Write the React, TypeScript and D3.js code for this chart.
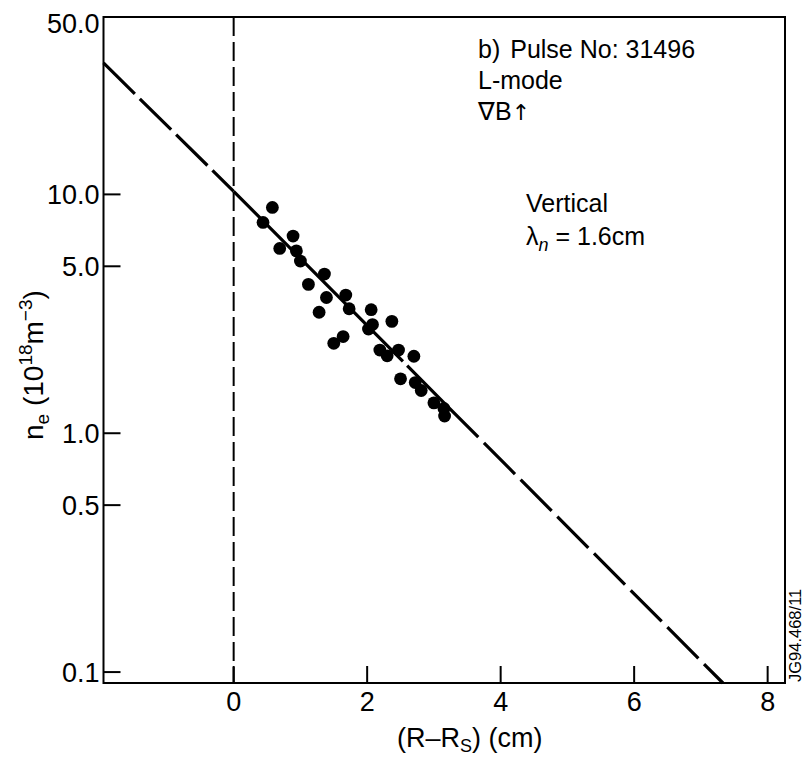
import React from "react";
import * as d3 from "d3";

// ---- data ----
const pointX = [0.58, 0.44, 0.89, 0.69, 0.94, 1.0, 1.36, 1.12, 1.39, 1.68, 1.28, 1.73, 2.06, 2.08, 2.37, 2.02, 1.64, 1.5, 2.19, 2.3, 2.47, 2.7, 2.5, 2.72, 2.81, 3.0, 3.15, 3.16];
const pointY = [8.82, 7.63, 6.69, 5.94, 5.8, 5.26, 4.64, 4.2, 3.7, 3.79, 3.21, 3.32, 3.29, 2.85, 2.94, 2.73, 2.54, 2.38, 2.23, 2.11, 2.23, 2.1, 1.69, 1.63, 1.51, 1.34, 1.27, 1.18];

// fitted line (lambda_n ~ 1.6 cm), read at its ends and break points
const fitDashedLeft = [[-1.95, 35.5], [0, 10.3]];
const fitSolid = [[0, 10.3], [3.2, 1.3]];
const fitDashedRight = [[3.2, 1.3], [7.33, 0.09]];

const xTicks = [0, 2, 4, 6, 8];
const xTickLabels = ["0", "2", "4", "6", "8"];
const yTicks = [0.1, 0.5, 1, 5, 10, 50];
const yTickLabels = ["0.1", "0.5", "1.0", "5.0", "10.0", "50.0"];
const yTickMarks = [0.1, 0.5, 1, 5, 10];

const xDomain = [-1.95, 8.26];
const yDomain = [0.09, 55.3];

const FONT = "'Liberation Sans', Arial, Helvetica, sans-serif";

export default function App() {
  const W = 804, H = 760;
  const left = 103.5, right = 785, top = 17, bottom = 683;
  const x = d3.scaleLinear().domain(xDomain).range([left, right]);
  const y = d3.scaleLog().domain(yDomain).range([bottom, top]);
  const line = d3.line<number[]>().x(d => x(d[0])).y(d => y(d[1]));
  const tickLen = 17;

  return (
    <svg width={W} height={H} style={{ position: "absolute", left: 0, top: 0, background: "#fff" }} fontFamily={FONT}>
      <rect x={0} y={0} width={W} height={H} fill="#fff" />
      {/* frame */}
      <rect x={left} y={top} width={right - left} height={bottom - top} fill="none" stroke="#000" strokeWidth={2} />
      {/* vertical dashed line at x=0 */}
      <line x1={x(0)} x2={x(0)} y1={top} y2={bottom} stroke="#000" strokeWidth={2} strokeDasharray="19 6" />
      {/* y ticks */}
      {yTickMarks.map(v => (
        <line key={"yt" + v} x1={left} x2={left + tickLen} y1={y(v)} y2={y(v)} stroke="#000" strokeWidth={2} />
      ))}
      {yTicks.map((v, i) => (
        <text key={"yl" + v} x={left - 4} y={y(v) - (v === 50 ? 4 : 0)} dy="0.36em" textAnchor="end" fontSize={27} fill="#000">{yTickLabels[i]}</text>
      ))}
      {/* x ticks */}
      {xTicks.map((v, i) => (
        <g key={"xt" + v}>
          <line x1={x(v)} x2={x(v)} y1={bottom} y2={bottom - tickLen} stroke="#000" strokeWidth={2} />
          <text x={x(v)} y={711} textAnchor="middle" fontSize={27} fill="#000">{xTickLabels[i]}</text>
        </g>
      ))}
      {/* fit line */}
      <path d={line(fitDashedLeft as any) || ""} fill="none" stroke="#000" strokeWidth={3.2} strokeDasharray="44 7" />
      <path d={line(fitSolid as any) || ""} fill="none" stroke="#000" strokeWidth={3.2} strokeDasharray="240 6 400" />
      <path d={line(fitDashedRight as any) || ""} fill="none" stroke="#000" strokeWidth={3.2} strokeDasharray="44 8" />
      {/* points */}
      {pointX.map((px, i) => (
        <circle key={"p" + i} cx={x(px)} cy={y(pointY[i])} r={6.4} fill="#000" />
      ))}
      {/* annotations */}
      <text x={478} y={58} fontSize={25} fill="#000">
        <tspan>b)</tspan><tspan dx={10}>Pulse No: 31496</tspan>
      </text>
      <text x={478} y={89} fontSize={25} fill="#000">L-mode</text>
      <text x={478} y={120} fontSize={25} fill="#000">
        <tspan>{"\u2207B"}</tspan>
        <tspan fontFamily="'DejaVu Sans', sans-serif" fontSize={22}>{"\u2191"}</tspan>
      </text>
      <text x={526} y={212} fontSize={25} fill="#000">Vertical</text>
      <text x={526} y={245} fontSize={25} fill="#000">
        <tspan>{"\u03BB"}</tspan>
        <tspan fontSize={18} fontStyle="italic" dy={6}>n</tspan>
        <tspan dy={-6}>{" = 1.6cm"}</tspan>
      </text>
      {/* axis titles */}
      <text x={397} y={747} fontSize={27} fill="#000">
        <tspan>(R{"\u2013"}R</tspan>
        <tspan fontSize={18} dy={5}>S</tspan>
        <tspan dy={-5}>) (cm)</tspan>
      </text>
      <text transform="translate(43,440) rotate(-90)" fontSize={28} fill="#000">
        <tspan>n</tspan>
        <tspan fontSize={19} dy={6}>e</tspan>
        <tspan dy={-6}> (10</tspan>
        <tspan fontSize={19} dy={-11}>18</tspan>
        <tspan dy={11}>m</tspan>
        <tspan fontSize={19} dy={-11}>{"\u22123"}</tspan>
        <tspan dy={11}>)</tspan>
      </text>
      <text transform="translate(801,682) rotate(-90)" fontSize={16.5} fill="#000">JG94.468/11</text>
    </svg>
  );
}
